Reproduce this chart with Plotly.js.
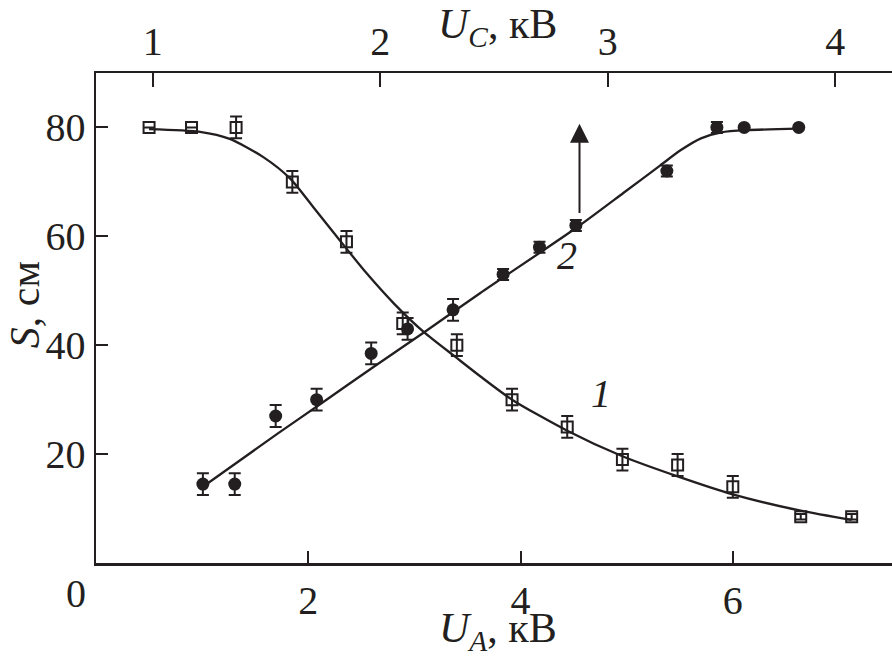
<!DOCTYPE html>
<html>
<head>
<meta charset="utf-8">
<script src="https://cdn.plot.ly/plotly-3.0.1.min.js"></script>
<style>
  html, body { margin: 0; padding: 0; background: #fff; }
  #chart { width: 892px; height: 657px; }
</style>
</head>
<body>
<div id="chart"></div>
<script>
// Curve 1: open squares vs U_A (bottom axis)
const uaSquares  = [0.50, 0.90, 1.32, 1.85, 2.36, 2.89, 3.40, 3.92, 4.44, 4.96, 5.48, 6.00, 6.64, 7.12];
const sSquares   = [80.0, 80.0, 80.0, 70.0, 59.0, 44.0, 40.0, 30.0, 25.0, 19.0, 18.0, 14.0, 8.5, 8.5];
const errSquares = [0, 0, 2, 2, 2, 2, 2, 2, 2, 2, 2, 2, 0.5, 0.5];

// Curve 2: filled circles vs U_C (top axis)
const ucCircles  = [1.22, 1.36, 1.54, 1.72, 1.96, 2.12, 2.32, 2.54, 2.70, 2.86, 3.26, 3.48, 3.60, 3.84];
const sCircles   = [14.5, 14.5, 27.0, 30.0, 38.5, 43.0, 46.5, 53.0, 58.0, 62.0, 72.0, 80.0, 80.0, 80.0];
const errCircles = [2, 2, 2, 2, 2, 2, 2, 1, 1, 1, 1, 1, 0, 0];

// Fitted curves
const uaCurve1 = [0.50, 0.98, 1.26, 1.58, 1.83, 2.05, 2.30, 2.55, 2.81, 3.09, 3.39, 3.62, 3.92, 4.44, 4.96, 5.48, 6.00, 6.64, 7.12];
const sCurve1  = [79.7, 79.2, 77.9, 74.5, 70.6, 65.3, 59.2, 53.2, 47.6, 42.4, 37.8, 34.3, 30.0, 24.3, 19.6, 15.9, 12.6, 9.6, 7.9];
const ucCurve2 = [1.24, 1.55, 1.74, 1.97, 2.19, 2.44, 2.87, 3.07, 3.23, 3.32, 3.41, 3.50, 3.61, 3.84];
const sCurve2  = [14.6, 23.8, 29.3, 36.0, 42.3, 49.6, 61.8, 68.0, 73.0, 75.8, 78.0, 79.1, 79.5, 79.8];

// Tick labels
const bottomTicks = [2, 4, 6];
const topTicks = [1, 2, 3, 4];
const yTicks = [0, 20, 40, 60, 80];
const yTickText = ['', '20', '40', '60', '80'];

const INK = '#231f20';
const FONT = 'Liberation Serif, Times New Roman, serif';

const traces = [
  { x: uaCurve1, y: sCurve1, xaxis: 'x', yaxis: 'y', mode: 'lines',
    line: { color: INK, width: 2.3, shape: 'spline', smoothing: 0.7 }, hoverinfo: 'skip' },
  { x: ucCurve2, y: sCurve2, xaxis: 'x2', yaxis: 'y', mode: 'lines',
    line: { color: INK, width: 2.3, shape: 'spline', smoothing: 0.7 }, hoverinfo: 'skip' },
  { x: uaSquares, y: sSquares, xaxis: 'x', yaxis: 'y', mode: 'markers',
    marker: { symbol: 'square-open', size: 11, color: INK, line: { width: 2, color: INK } },
    error_y: { type: 'data', array: errSquares, visible: true, color: INK, thickness: 2, width: 6 } },
  { x: ucCircles, y: sCircles, xaxis: 'x2', yaxis: 'y', mode: 'markers',
    marker: { symbol: 'circle', size: 13, color: INK, line: { width: 0 } },
    error_y: { type: 'data', array: errCircles, visible: true, color: INK, thickness: 2, width: 6 } }
];

const tickFont = { family: FONT, size: 40, color: INK };

const layout = {
  width: 892, height: 657,
  margin: { l: 96, r: 0, t: 73, b: 94, pad: 0 },
  paper_bgcolor: '#fff', plot_bgcolor: '#fff',
  showlegend: false,
  font: { family: FONT, color: INK },
  xaxis: {
    range: [0, 7.5], tickvals: bottomTicks, ticktext: bottomTicks.map(String),
    ticks: 'inside', ticklen: 12, tickwidth: 2, tickcolor: INK,
    showline: true, linewidth: 2.5, linecolor: INK, mirror: false,
    showgrid: false, zeroline: false, tickfont: tickFont, fixedrange: true
  },
  xaxis2: {
    overlaying: 'x', side: 'top', anchor: 'y',
    range: [0.75, 4.25], tickvals: topTicks, ticktext: topTicks.map(String),
    ticks: 'inside', ticklen: 14, tickwidth: 2, tickcolor: INK,
    showline: true, linewidth: 2.5, linecolor: INK,
    showgrid: false, zeroline: false, tickfont: tickFont, fixedrange: true
  },
  yaxis: {
    range: [0, 90], tickvals: yTicks, ticktext: yTickText,
    ticks: 'inside', ticklen: 12, tickwidth: 2, tickcolor: INK,
    showline: true, linewidth: 2.5, linecolor: INK, mirror: false,
    showgrid: false, zeroline: false, tickfont: tickFont, fixedrange: true
  },
  annotations: [
    { text: '0', xref: 'x', yref: 'paper', x: 0, y: -0.063, xshift: -20,
      xanchor: 'center', yanchor: 'middle', showarrow: false, font: tickFont },
    { text: '<i>U</i><sub><i>C</i></sub>, кВ', xref: 'paper', yref: 'paper', x: 0.505, y: 1.094,
      xanchor: 'center', yanchor: 'middle', showarrow: false, font: { family: FONT, size: 42, color: INK } },
    { text: '<i>U</i><sub><i>A</i></sub>, кВ', xref: 'paper', yref: 'paper', x: 0.505, y: -0.139,
      xanchor: 'center', yanchor: 'middle', showarrow: false, font: { family: FONT, size: 42, color: INK } },
    { text: '<i>S</i>, см', xref: 'paper', yref: 'paper', x: -0.089, y: 0.5265, textangle: -90,
      xanchor: 'center', yanchor: 'middle', showarrow: false, font: { family: FONT, size: 42, color: INK } },
    { text: '<i>1</i>', xref: 'x', yref: 'y', x: 4.755, y: 31.2,
      xanchor: 'center', yanchor: 'middle', showarrow: false, font: { family: FONT, size: 40, color: INK } },
    { text: '<i>2</i>', xref: 'x2', yref: 'y', x: 2.822, y: 56.5,
      xanchor: 'center', yanchor: 'middle', showarrow: false, font: { family: FONT, size: 40, color: INK } },
    { text: '', xref: 'x2', yref: 'y', x: 2.876, y: 80.7, axref: 'x2', ayref: 'y', ax: 2.876, ay: 64,
      showarrow: true, arrowhead: 2, arrowsize: 1.9, arrowwidth: 2, arrowcolor: INK }
  ]
};

Plotly.newPlot('chart', traces, layout, { staticPlot: true, displayModeBar: false });
</script>
</body>
</html>
